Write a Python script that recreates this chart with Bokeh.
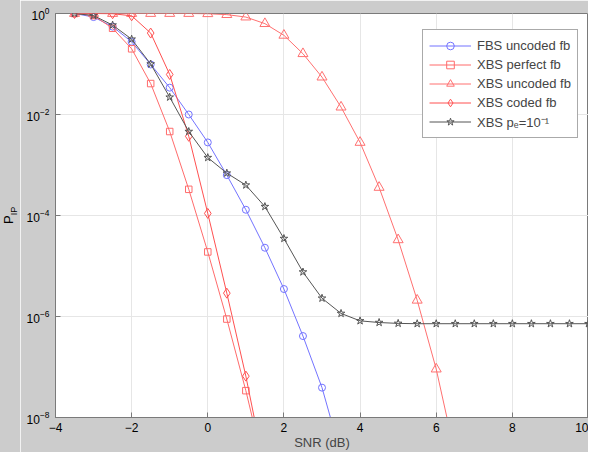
from bokeh.plotting import figure
from bokeh.models import FixedTicker, Div
from bokeh.layouts import row
from bokeh.embed import file_html
from bokeh.resources import INLINE

# ---- data ----
snr_fbs = [-3.5, -3.0, -2.5, -2.0, -1.5, -1.0, -0.5, 0.0, 0.5, 1.0, 1.5, 2.0, 2.5, 3.0, 3.5]
fbs_uncoded = [1.0, 0.85, 0.55, 0.275, 0.098, 0.034, 0.01, 0.0028, 6.3e-4, 1.3e-4, 2.3e-5, 3.5e-6, 4.1e-7, 3.9e-8, 1.8e-9]

snr_perfect = [-3.5, -3.0, -2.5, -2.0, -1.5, -1.0, -0.5, 0.0, 0.5, 1.0, 1.5]
xbs_perfect = [1.0, 0.91, 0.51, 0.2, 0.041, 0.0046, 3.3e-4, 1.9e-5, 8.9e-7, 3.4e-8, 9e-10]

snr_uncoded = [-3.5, -3.0, -2.5, -2.0, -1.5, -1.0, -0.5, 0.0, 0.5, 1.0, 1.5, 2.0, 2.5,
               3.0, 3.5, 4.0, 4.5, 5.0, 5.5, 6.0, 6.5]
xbs_uncoded = [1.0, 1.0, 1.0, 1.0, 1.0, 1.0, 1.0, 0.99, 0.95, 0.85, 0.63, 0.37, 0.16,
               0.055, 0.014, 0.0028, 3.6e-4, 3.3e-5, 2.1e-6, 9.1e-8, 1.8e-9]

snr_coded = [-3.5, -3.0, -2.5, -2.0, -1.5, -1.0, -0.5, 0.0, 0.5, 1.0, 1.5]
xbs_coded = [1.0, 1.0, 0.99, 0.9, 0.41, 0.062, 0.0037, 1.1e-4, 2.9e-6, 6.6e-8, 9e-10]

snr_pe = [-3.5, -3.0, -2.5, -2.0, -1.5, -1.0, -0.5, 0.0, 0.5, 1.0, 1.5, 2.0, 2.5, 3.0,
          3.5, 4.0, 4.5, 5.0, 5.5, 6.0, 6.5, 7.0, 7.5, 8.0, 8.5, 9.0, 9.5, 10.0]
xbs_pe = [1.0, 0.91, 0.59, 0.31, 0.1, 0.022, 0.0046, 0.0014, 6.9e-4, 4.0e-4, 1.5e-4, 3.5e-5,
          7.6e-6, 2.3e-6, 1.15e-6, 8.2e-7, 7.6e-7, 7.3e-7, 7.2e-7, 7.2e-7, 7.2e-7, 7.2e-7,
          7.2e-7, 7.2e-7, 7.2e-7, 7.2e-7, 7.2e-7, 7.2e-7]

x_ticks = [-4, -2, 0, 2, 4, 6, 8, 10]
y_ticks = [1e-8, 1e-6, 1e-4, 1e-2, 1.0]

labels = ["FBS uncoded fb", "XBS perfect fb", "XBS uncoded fb", "XBS coded fb", "XBS p\u2091=10\u207b\u00b9"]

FONT = "Liberation Sans"
AXC = "#7a7a7a"
BG = "#cccccc"

p = figure(width=568, height=452, x_range=(-4, 10), y_range=(1e-8, 1.0),
           y_axis_type="log", output_backend="svg", toolbar_location=None,
           min_border_left=35, min_border_right=0, min_border_top=13, min_border_bottom=34,
           background_fill_color="white", border_fill_color=BG,
           outline_line_color=AXC)

series = [
    (snr_fbs, fbs_uncoded, "#7373ff", "circle", 7),
    (snr_perfect, xbs_perfect, "#ff6b6b", "square", 6.5),
    (snr_uncoded, xbs_uncoded, "#ff7070", "triangle", 10),
    (snr_coded, xbs_coded, "#ff5050", "diamond", 10),
    (snr_pe, xbs_pe, "#555555", "star", 8),
]
for (xs, ys, col, mk, sz), lab in zip(series, labels):
    p.line(xs, ys, line_color=col, line_width=1, legend_label=lab)
    p.scatter(xs, ys, marker=mk, size=sz, line_color=col, fill_color=None,
              line_width=1, legend_label=lab)

# axes
p.xaxis.ticker = FixedTicker(ticks=x_ticks)
p.yaxis.ticker = FixedTicker(ticks=y_ticks)
for ax in (p.xaxis[0], p.yaxis[0]):
    ax.major_tick_in = 5
    ax.major_tick_out = 0
    ax.minor_tick_in = 0
    ax.minor_tick_out = 0
    ax.axis_line_color = AXC
    ax.major_tick_line_color = AXC
    ax.major_label_text_font = FONT
    ax.major_label_text_font_size = "12px"
    ax.major_label_text_color = "black"
p.xaxis.major_label_standoff = 5
p.yaxis.major_label_standoff = 6
p.xaxis.axis_label = "SNR (dB)"
p.xaxis.axis_label_text_font = FONT
p.xaxis.axis_label_text_font_size = "13px"
p.xaxis.axis_label_text_font_style = "normal"
p.xaxis.axis_label_standoff = 0

p.grid.grid_line_color = "#e6e6e6"
p.grid.grid_line_width = 1

lg = p.legend[0]
lg.location = (367, 279)
lg.label_text_font = FONT
lg.label_text_font_size = "13px"
lg.glyph_width = 42
lg.glyph_height = 19
lg.label_height = 19
lg.spacing = 0
lg.padding = 6
lg.margin = 0
lg.label_standoff = 6
lg.border_line_color = "#555555"
lg.background_fill_color = "white"
lg.background_fill_alpha = 1.0

# y-axis label P_IP (rotated HTML text)
ylab = Div(
    text=('<div style="margin-top:224px;margin-left:1px;width:0;height:0;'
          'transform:rotate(-90deg);transform-origin:0 0;white-space:nowrap;'
          "font-family:'Liberation Sans';font-size:13px;line-height:15px;color:black;\">"
          'P<sub style="font-size:9px;">IP</sub></div>'),
    width=20, height=452, margin=0,
    styles={"background-color": BG})

layout = row(ylab, p, spacing=0)
open("out.html", "w").write(file_html(layout, INLINE))
